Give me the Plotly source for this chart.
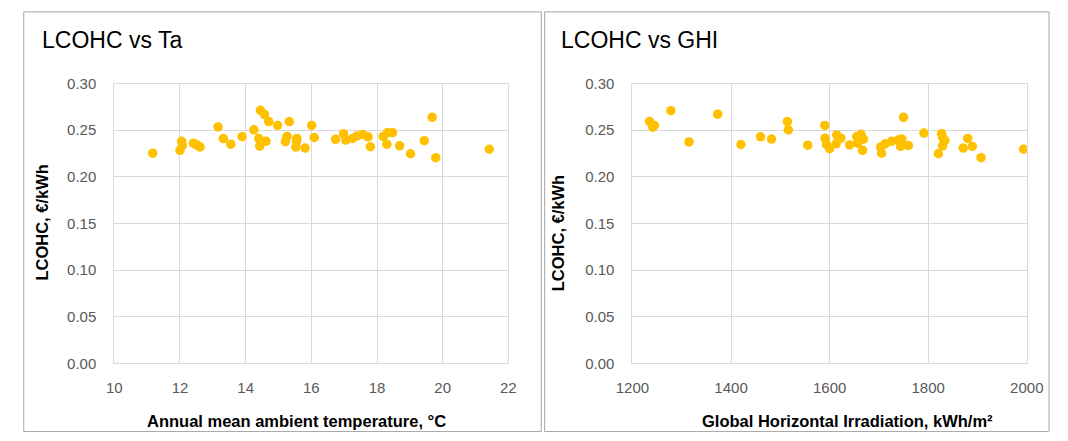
import plotly.graph_objects as go

# Left chart: LCOHC vs annual mean ambient temperature
ta_temp = [11.17, 12.05, 12.0, 12.07, 12.41, 12.51, 12.61, 13.16, 13.32, 13.55, 13.89, 14.25,
           14.45, 14.57, 14.70, 14.40, 14.62, 14.43, 14.97, 15.33, 15.26, 15.21, 15.56, 15.55,
           15.53, 15.81, 16.01, 16.09, 16.74, 16.98, 17.05, 17.26, 17.39, 17.56, 17.73, 17.80,
           18.19, 18.32, 18.47, 18.30, 18.69, 19.02, 19.44, 19.68, 19.79, 21.42]
ta_lcohc = [0.2253, 0.238, 0.2284, 0.2336, 0.236, 0.2342, 0.232, 0.2534, 0.241, 0.235, 0.243, 0.2503,
            0.2712, 0.2668, 0.2592, 0.241, 0.238, 0.2329, 0.2551, 0.2592, 0.2432, 0.2377, 0.2411, 0.2377,
            0.2318, 0.2308, 0.2551, 0.2421, 0.2401, 0.2462, 0.2394, 0.2411, 0.2438, 0.2452, 0.2428, 0.2322,
            0.2432, 0.2473, 0.2473, 0.2349, 0.2332, 0.2247, 0.2387, 0.2637, 0.2205, 0.2295]

# Right chart: LCOHC vs global horizontal irradiation
ghi = [1234.7, 1241.2, 1244.5, 1277.9, 1314.6, 1372.8, 1420.0, 1459.9, 1482.2, 1514.2, 1516.2, 1555.5,
       1590.2, 1590.8, 1593.5, 1600.0, 1614.4, 1613.1, 1622.9, 1640.6, 1655.0, 1663.5, 1668.7, 1666.8,
       1657.0, 1703.4, 1705.4, 1712.6, 1725.7, 1738.8, 1746.6, 1744.0, 1759.7, 1749.9, 1791.2, 1827.2,
       1829.2, 1833.8, 1829.2, 1820.6, 1871.0, 1880.2, 1889.4, 1907.1, 1993.5]
ghi_lcohc = [0.2592, 0.2531, 0.2551, 0.2709, 0.2373, 0.2671, 0.2346, 0.2428, 0.2404, 0.2592, 0.2503, 0.2339,
             0.2551, 0.2414, 0.2346, 0.2301, 0.2449, 0.2353, 0.2414, 0.2342, 0.2428, 0.2455, 0.2404, 0.2284,
             0.236, 0.2318, 0.2253, 0.2353, 0.2380, 0.2394, 0.2404, 0.2325, 0.2336, 0.2637, 0.2469, 0.2462,
             0.2421, 0.2387, 0.2332, 0.2247, 0.2308, 0.2411, 0.2325, 0.2205, 0.2295]

titles = ["LCOHC vs Ta", "LCOHC vs GHI"]
x_titles = ["Annual mean ambient temperature, °C", "Global Horizontal Irradiation, kWh/m²"]
y_title = "LCOHC, €/kWh"

W, H = 1068, 441
FONT = "Liberation Sans, Arial, sans-serif"
GRID = "#d9d9d9"
TICKC = "#595959"
MARK = "#FFC000"

def px(x):
    return x / W

def py(y):
    return 1 - y / H

fig = go.Figure()
fig.add_trace(go.Scatter(x=ta_temp, y=ta_lcohc, mode="markers", xaxis="x", yaxis="y",
                         marker=dict(color=MARK, size=9.5, line=dict(width=0)), showlegend=False))
fig.add_trace(go.Scatter(x=ghi, y=ghi_lcohc, mode="markers", xaxis="x2", yaxis="y2",
                         marker=dict(color=MARK, size=9.5, line=dict(width=0)), showlegend=False))

ydom = [py(368.5), py(77.5)]
common_x = dict(showgrid=True, gridcolor=GRID, gridwidth=1, showline=True, linecolor=GRID, mirror=True,
                zeroline=False, ticks="", tickfont=dict(family=FONT, size=15, color=TICKC),
                ticklabelstandoff=11)
common_y = dict(range=[0, 0.30], dtick=0.05, tickformat=".2f", showgrid=True, gridcolor=GRID, gridwidth=1,
                showline=True, linecolor=GRID, mirror=True, zeroline=False, ticks="",
                tickfont=dict(family=FONT, size=15, color=TICKC), ticklabelstandoff=14)

fig.update_layout(
    width=W, height=H,
    margin=dict(l=0, r=0, t=0, b=0),
    paper_bgcolor="white", plot_bgcolor="white",
    xaxis=dict(domain=[px(100.5), px(507.5)], range=[10, 22], dtick=2, anchor="y", **common_x),
    yaxis=dict(domain=ydom, anchor="x", **common_y),
    xaxis2=dict(domain=[px(635.7), px(1043)], range=[1200, 2000], dtick=200, anchor="y2", **common_x),
    yaxis2=dict(domain=ydom, anchor="x2", **common_y),
)

# Panel borders
for x0, x1 in [(7, 541.5), (545, 1066)]:
    fig.add_shape(type="rect", xref="paper", yref="paper", x0=px(x0), x1=px(x1), y0=py(439.5), y1=py(3),
                  line=dict(color="#a6a6a6", width=1), fillcolor="rgba(0,0,0,0)", layer="below")

ann = []
for t, x in zip(titles, [23.5, 560]):
    ann.append(dict(text=t, x=px(x), y=py(32.5), xref="paper", yref="paper", xanchor="left", yanchor="middle",
                    showarrow=False, font=dict(family=FONT, size=23, color="black")))
for t, x in zip(x_titles, [289, 857.5]):
    ann.append(dict(text="<b>" + t + "</b>", x=px(x), y=py(429), xref="paper", yref="paper",
                    xanchor="center", yanchor="middle", showarrow=False,
                    font=dict(family=FONT, size=16.5, color="black")))
for x, yc in [(25.5, 222.5), (559, 233)]:
    ann.append(dict(text="<b>" + y_title + "</b>", x=px(x), y=py(yc), xref="paper", yref="paper",
                    xanchor="center", yanchor="middle", textangle=-90, showarrow=False,
                    font=dict(family=FONT, size=16.5, color="black")))
fig.update_layout(annotations=ann)

fig.write_html("out.html", config={"displayModeBar": False},
               post_script="document.body.style.margin='0';document.body.style.overflow='hidden';")
